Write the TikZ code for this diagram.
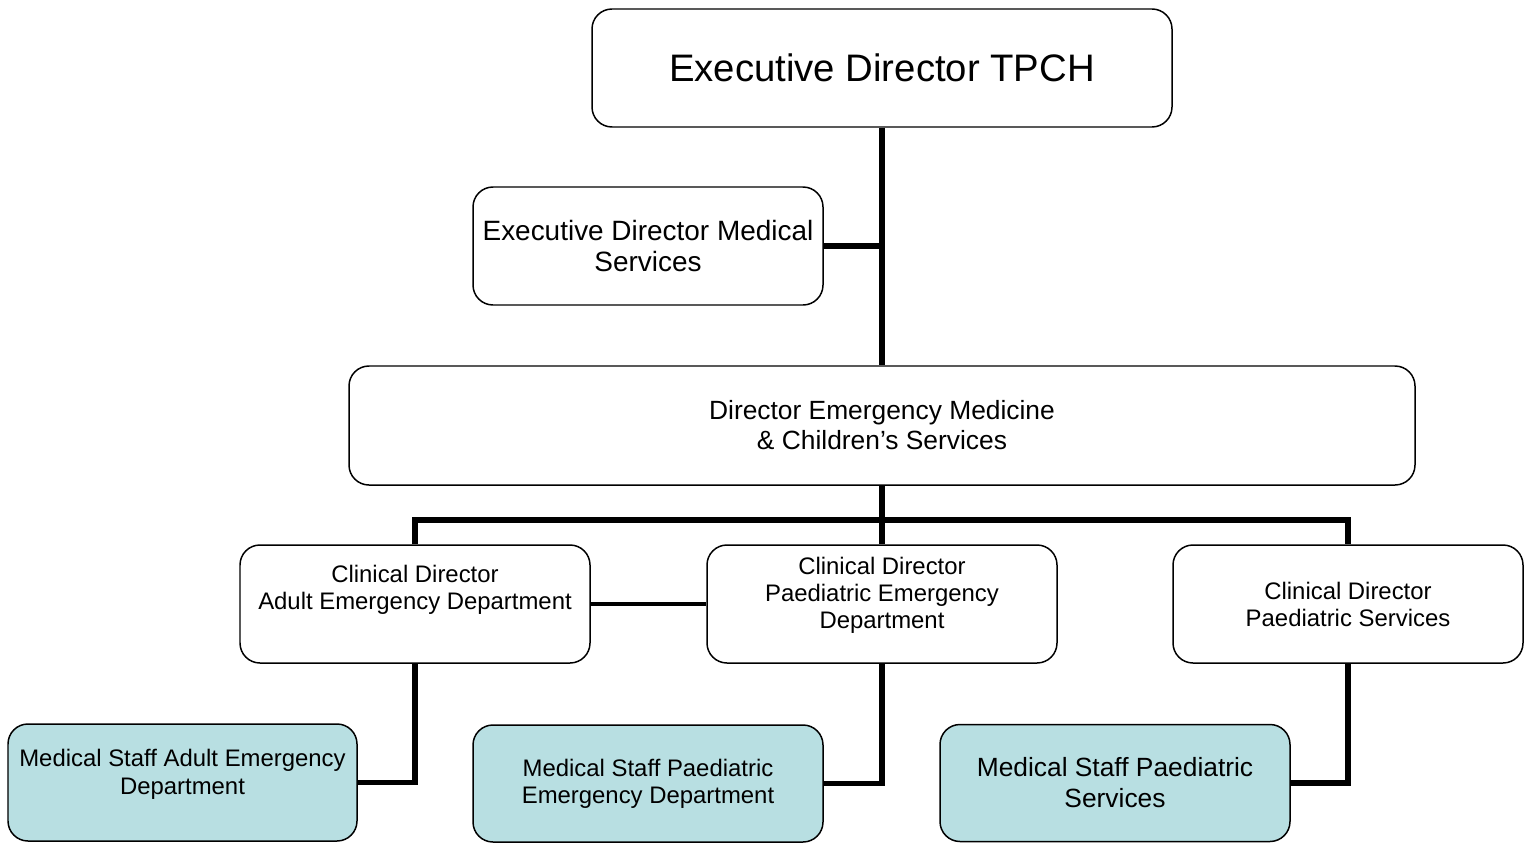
\documentclass[tikz,border=0pt]{standalone}
\usepackage{fontspec}
\setmainfont{Liberation Sans}
\definecolor{stafffill}{RGB}{184,223,226}
\begin{document}
\begin{tikzpicture}[
    box/.style={draw, line width=0.85pt, rounded corners=0.4cm, align=center,
        minimum width=7.0cm, minimum height=2.36cm, inner sep=0pt},
    staff/.style={box, fill=stafffill},
    link/.style={line width=3.2pt},
    fbig/.style={font=\fontsize{21.8}{25}\selectfont},
    fmed/.style={font=\fontsize{15.9}{18}\selectfont},
    fdir/.style={font=\fontsize{15}{17}\selectfont},
    fsmall/.style={font=\fontsize{13.6}{15.4}\selectfont}]
    \useasboundingbox (0,0) rectangle (30.48,-16.86);
    % top of the chart
    \node[box, fbig, minimum width=11.6cm] (exec) at (17.64,-1.36) {Executive Director TPCH};
    \node[box, fmed] (edms) at (12.96,-4.92) {Executive Director Medical\\Services};
    \node[box, fdir, minimum width=21.32cm, minimum height=2.38cm] (demcs) at (17.64,-8.51)
        {Director Emergency Medicine\\\& Children’s Services};
    % clinical directors
    \node[box, label={[fsmall, align=center, yshift=0.28cm]center:Clinical Director\\Adult Emergency Department}]
        (cdaed) at (8.30,-12.08) {};
    \node[box, label={[fsmall, align=center, yshift=0.18cm]center:Clinical Director\\Paediatric Emergency\\Department}]
        (cdped) at (17.64,-12.08) {};
    \node[box, fsmall] (cdps) at (26.96,-12.08) {Clinical Director\\Paediatric Services};
    % medical staff
    \node[staff, minimum width=6.98cm, minimum height=2.34cm,
        label={[font=\fontsize{13.6}{15.9}\selectfont, align=center, yshift=0.16cm]center:Medical Staff Adult Emergency\\Department}]
        (msaed) at (3.65,-15.65) {};
    \node[staff, fsmall, minimum height=2.34cm] (msped) at (12.96,-15.67)
        {Medical Staff Paediatric\\Emergency Department};
    \node[staff, font=\fontsize{15}{17.6}\selectfont, minimum height=2.34cm] (msps) at (22.30,-15.66)
        {Medical Staff Paediatric\\Services};
    % reporting lines
    \coordinate (bus) at (17.64,-10.40);
    \draw[link] (exec.south) -- (demcs.north);
    \draw[link] (edms.east) -- (edms.east -| exec.south);
    \draw[link] (demcs.south) -- (bus);
    \draw[link] (cdaed.north) |- (bus) -| (cdps.north);
    \draw[link] (bus) -- (cdped.north);
    \draw[line width=1.9pt] (cdaed.east) -- (cdped.west);
    \draw[link] (cdaed.south) |- (msaed.east);
    \draw[link] (cdped.south) |- (msped.east);
    \draw[link] (cdps.south) |- (msps.east);
\end{tikzpicture}
\end{document}
